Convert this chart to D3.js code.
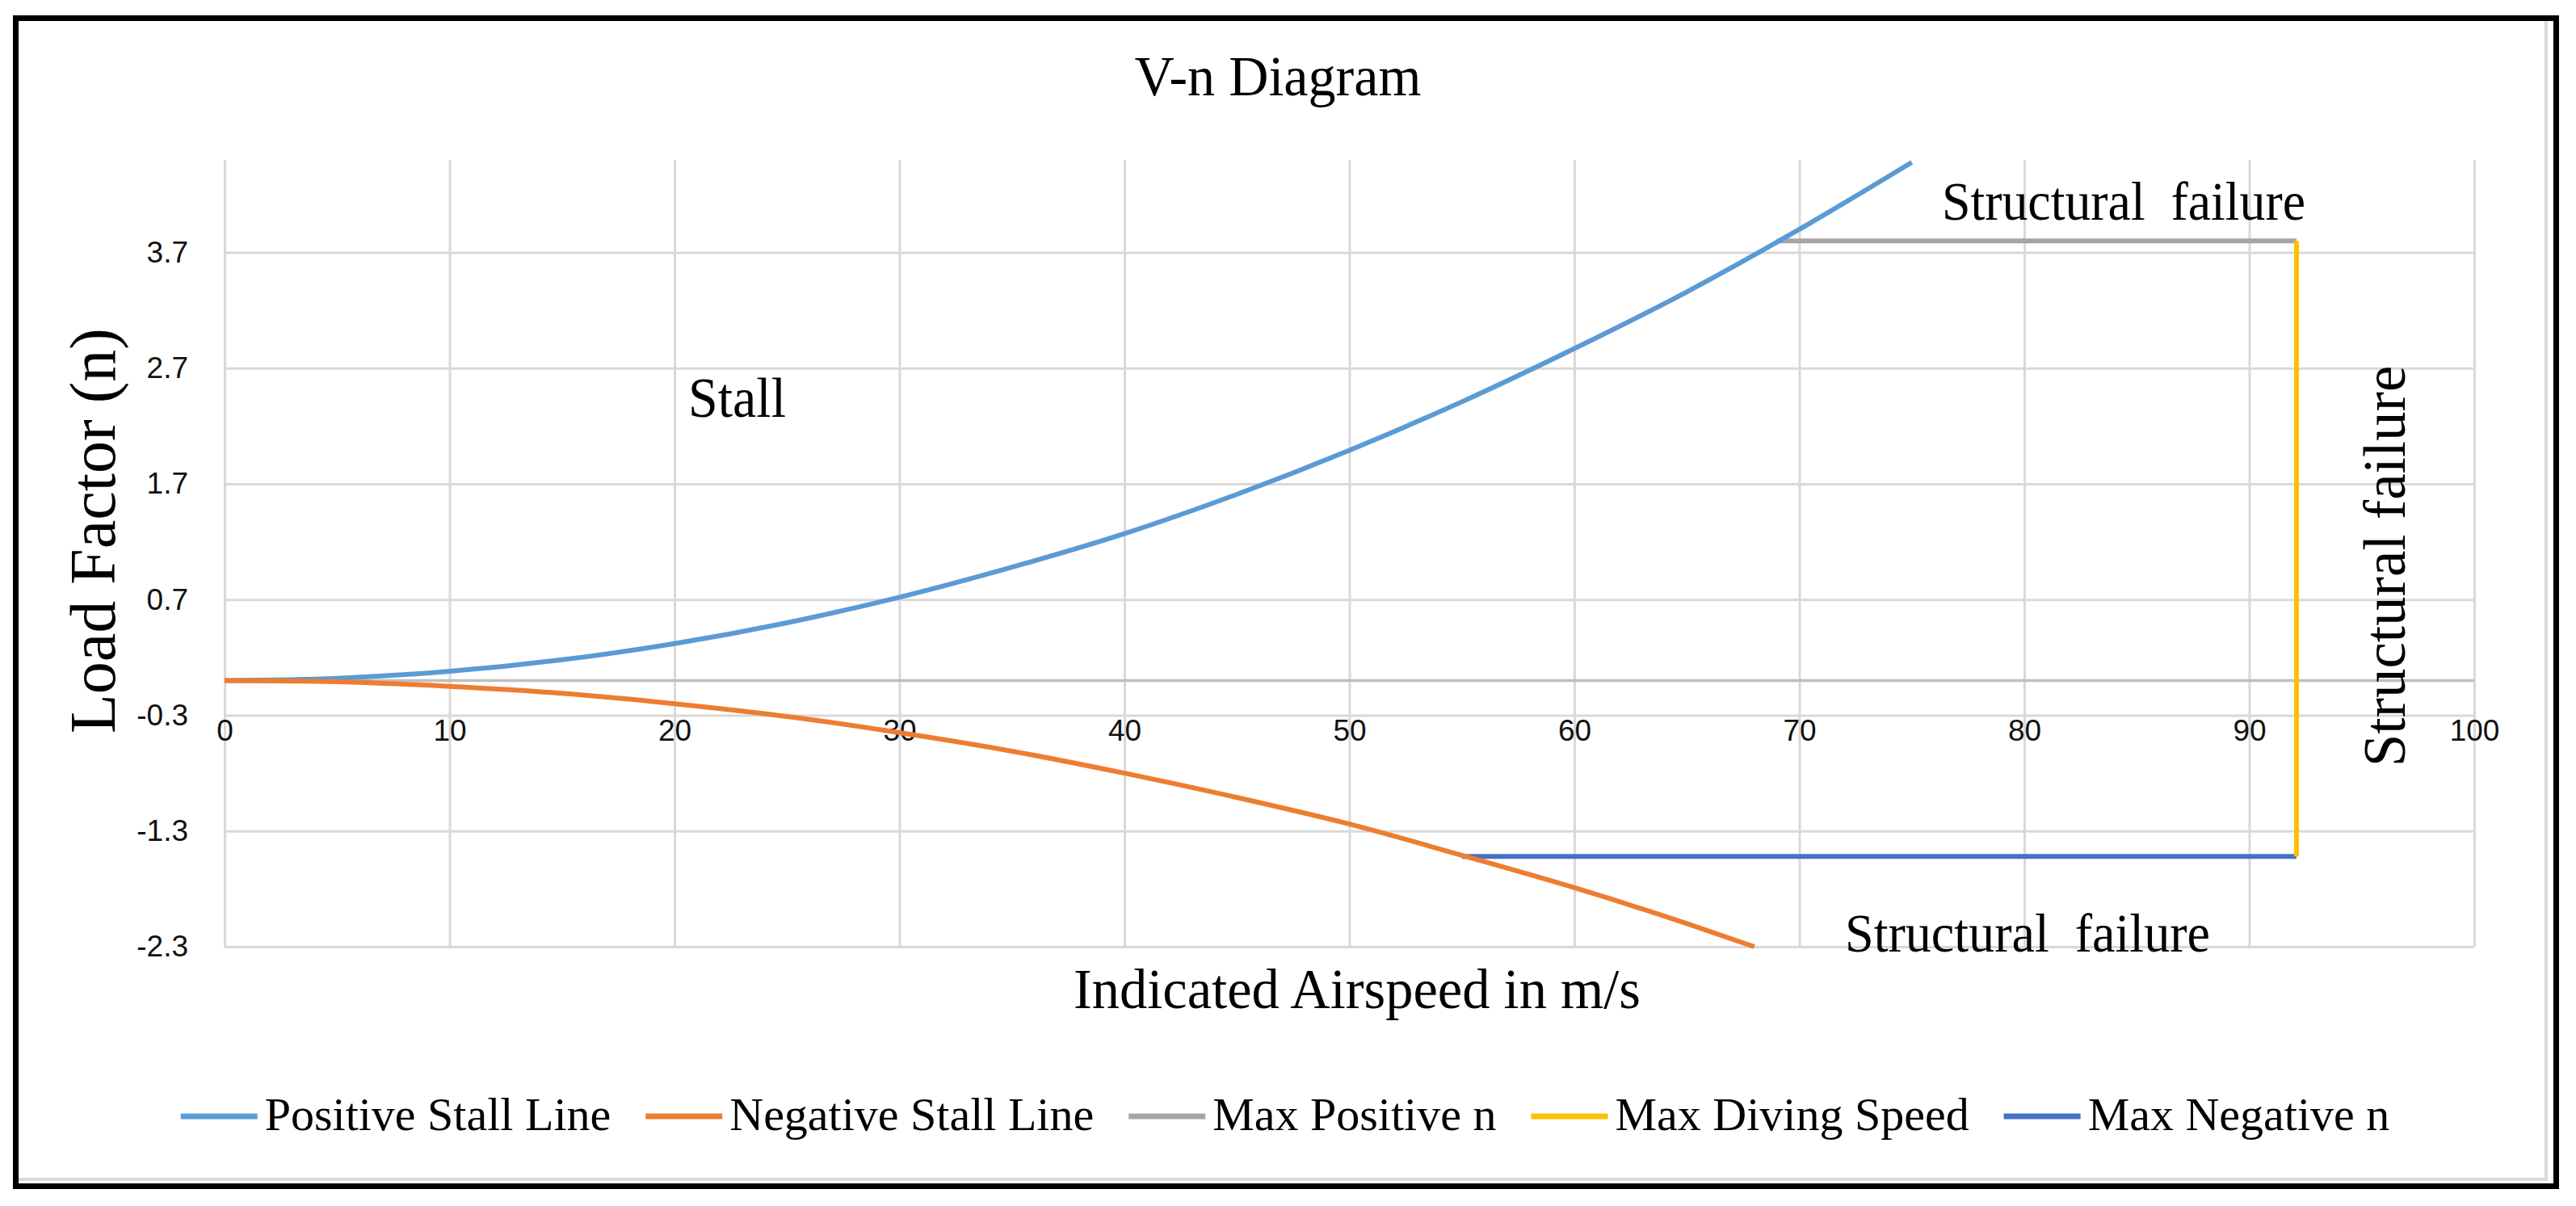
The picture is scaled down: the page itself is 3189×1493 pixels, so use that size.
<!DOCTYPE html>
<html>
<head>
<meta charset="utf-8">
<script src="https://cdn.jsdelivr.net/npm/d3@7"></script>
<style>
  body { margin: 0; background: #fff; }
  text { white-space: pre; }
</style>
</head>
<body>
<div id="chart"></div>
<script>
// values
var speedPos = [0, 5, 10, 15, 20, 25, 30, 35, 40, 45, 50, 55, 60, 65, 70, 75];
var nPos = [0, 0.02, 0.08, 0.18, 0.32, 0.50, 0.72, 0.98, 1.27, 1.61, 1.99, 2.41, 2.87, 3.36, 3.90, 4.48];
var speedNeg = [0, 5, 10, 15, 20, 25, 30, 35, 40, 45, 50, 55, 60, 65, 68];
var nNeg = [0, -0.01, -0.05, -0.11, -0.20, -0.31, -0.45, -0.61, -0.80, -1.01, -1.24, -1.51, -1.79, -2.10, -2.30];
var maxPosSpeed = [69, 92.1];
var maxPosN = [3.8, 3.8];
var diveSpeed = [92.1, 92.1];
var diveN = [3.8, -1.52];
var maxNegSpeed = [55, 92.1];
var maxNegN = [-1.52, -1.52];

var xTicks = [0, 10, 20, 30, 40, 50, 60, 70, 80, 90, 100];
var yTicks = [-2.3, -1.3, -0.3, 0.7, 1.7, 2.7, 3.7];
var seriesNames = ["Positive Stall Line", "Negative Stall Line", "Max Positive n", "Max Diving Speed", "Max Negative n"];
var seriesColors = ["#5B9BD5", "#ED7D31", "#A5A5A5", "#FFC000", "#4472C4"];

var W = 3189, H = 1493;
var svg = d3.select("#chart").append("svg")
  .attr("width", W)
  .attr("height", H);

svg.append("rect").attr("width", W).attr("height", H).attr("fill", "#fff");

// plot box
var pL = 278, pR = 3063, pT = 198, pB = 1172;
var x = d3.scaleLinear().domain([0, 100]).range([pL, pR]);
var y = d3.scaleLinear().domain([-2.3, 4.5]).range([pB, pT]);

// gridlines
var xGrid = svg.append("g")
  .attr("transform", "translate(0," + pB + ")")
  .call(d3.axisBottom(x).tickValues(xTicks).tickSize(-(pB - pT)).tickFormat(""));
var yGrid = svg.append("g")
  .attr("transform", "translate(" + pL + ",0)")
  .call(d3.axisLeft(y).tickValues(yTicks).tickSize(-(pR - pL)).tickFormat(""));
[xGrid, yGrid].forEach(function(g) {
  g.select(".domain").remove();
  g.selectAll("line").attr("stroke", "#D9D9D9").attr("stroke-width", 3);
});

// horizontal axis line at n = 0
svg.append("line")
  .attr("x1", pL).attr("x2", pR)
  .attr("y1", y(0)).attr("y2", y(0))
  .attr("stroke", "#BFBFBF").attr("stroke-width", 3.5);

// tick labels (plain hyphen for negatives, like the original)
var xLab = svg.append("g")
  .attr("transform", "translate(0," + y(0) + ")")
  .call(d3.axisBottom(x).tickValues(xTicks).tickSize(0).tickPadding(48));
var yLab = svg.append("g")
  .attr("transform", "translate(" + pL + ",0)")
  .call(d3.axisLeft(y).tickValues(yTicks).tickSize(0).tickPadding(45)
    .tickFormat(function(d) { return d.toFixed(1); }));
[xLab, yLab].forEach(function(g) {
  g.select(".domain").remove();
  g.selectAll("text")
    .attr("font-family", "'Liberation Sans', Arial, sans-serif")
    .attr("font-size", 37)
    .attr("fill", "#111");
});

// series
var series = [
  { v: speedPos, n: nPos },
  { v: speedNeg, n: nNeg },
  { v: maxPosSpeed, n: maxPosN },
  { v: diveSpeed, n: diveN },
  { v: maxNegSpeed, n: maxNegN }
];
var line = d3.line()
  .x(function(d) { return x(d[0]); })
  .y(function(d) { return y(d[1]); })
  .curve(d3.curveMonotoneX);
var straight = d3.line()
  .x(function(d) { return x(d[0]); })
  .y(function(d) { return y(d[1]); });

// draw order: flat limits first, stall lines on top
[2, 4, 3, 0, 1].forEach(function(i) {
  var s = series[i];
  var pts = s.v.map(function(v, k) { return [v, s.n[k]]; });
  svg.append("path")
    .attr("d", i < 2 ? line(pts) : straight(pts))
    .attr("fill", "none")
    .attr("stroke", seriesColors[i])
    .attr("stroke-width", 6)
    .attr("stroke-linejoin", "round");
});

var serif = "'Liberation Serif', 'Times New Roman', serif";

// titles
svg.append("text")
  .attr("x", 1582).attr("y", 118)
  .attr("text-anchor", "middle")
  .attr("font-family", serif).attr("font-size", 70)
  .attr("textLength", 355).attr("lengthAdjust", "spacingAndGlyphs")
  .text("V-n Diagram");

svg.append("text")
  .attr("x", 1680).attr("y", 1248)
  .attr("text-anchor", "middle")
  .attr("font-family", serif).attr("font-size", 70)
  .attr("textLength", 702).attr("lengthAdjust", "spacingAndGlyphs")
  .text("Indicated Airspeed in m/s");

svg.append("text")
  .attr("transform", "translate(142,657) rotate(-90)")
  .attr("text-anchor", "middle")
  .attr("font-family", serif).attr("font-size", 80)
  .text("Load Factor (n)");

// region labels
svg.append("text")
  .attr("x", 852).attr("y", 516)
  .attr("font-family", serif).attr("font-size", 70)
  .attr("textLength", 121).attr("lengthAdjust", "spacingAndGlyphs")
  .text("Stall");

svg.append("text")
  .attr("x", 2404).attr("y", 272)
  .attr("font-family", serif).attr("font-size", 68)
  .attr("textLength", 450).attr("lengthAdjust", "spacingAndGlyphs")
  .text("Structural  failure");

svg.append("text")
  .attr("x", 2284).attr("y", 1178)
  .attr("font-family", serif).attr("font-size", 68)
  .attr("textLength", 452).attr("lengthAdjust", "spacingAndGlyphs")
  .text("Structural  failure");

svg.append("text")
  .attr("transform", "translate(2977,701) rotate(-90)")
  .attr("text-anchor", "middle")
  .attr("font-family", serif).attr("font-size", 73)
  .text("Structural failure");

// legend
var legend = svg.append("g");
var lx = 0;
seriesNames.forEach(function(name, i) {
  var g = legend.append("g").attr("transform", "translate(" + lx + ",0)");
  g.append("line")
    .attr("x1", 0).attr("x2", 95)
    .attr("y1", 1382).attr("y2", 1382)
    .attr("stroke", seriesColors[i]).attr("stroke-width", 7);
  var t = g.append("text")
    .attr("x", 104).attr("y", 1399)
    .attr("font-family", serif).attr("font-size", 58)
    .text(name);
  lx += 104 + t.node().getComputedTextLength() + 43;
});
lx -= 43;
legend.attr("transform", "translate(" + (1591 - lx / 2) + ",0)");

// outer frame
svg.append("line")
  .attr("x1", 3152).attr("x2", 3152).attr("y1", 22).attr("y2", 1462)
  .attr("stroke", "#D9D9D9").attr("stroke-width", 4);
svg.append("line")
  .attr("x1", 22).attr("x2", 3152).attr("y1", 1460).attr("y2", 1460)
  .attr("stroke", "#D9D9D9").attr("stroke-width", 4);
svg.append("rect")
  .attr("x", 19.5).attr("y", 22.5)
  .attr("width", 3145).attr("height", 1446)
  .attr("fill", "none")
  .attr("stroke", "#000").attr("stroke-width", 7);
</script>
</body>
</html>
